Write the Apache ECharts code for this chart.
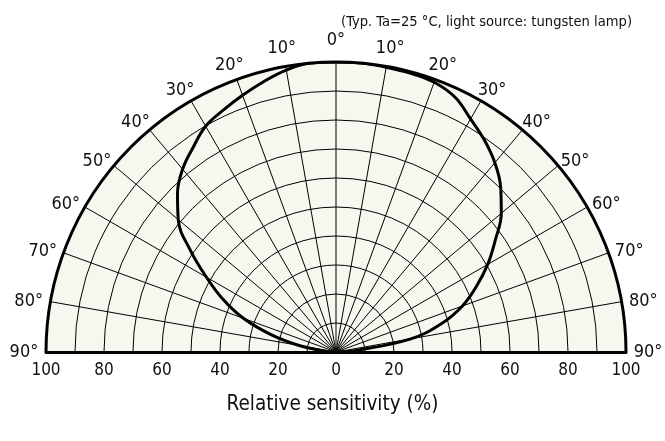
<!DOCTYPE html>
<html>
<head>
<meta charset="utf-8">
<script src="https://cdn.jsdelivr.net/npm/echarts@6/dist/echarts.min.js"></script>
<style>
  html, body { margin: 0; padding: 0; background: #fff; }
  #chart { width: 665px; height: 441px; }
</style>
</head>
<body>
<div id="chart"></div>
<script>
// angle (deg from vertical) and relative sensitivity (%)
const angles = [-90, -85, -80, -75, -70, -65, -60, -55, -50, -45, -40, -35, -30, -25, -20, -15, -10, -5,
  0, 5, 10, 15, 20, 25, 30, 35, 40, 45, 50, 55, 60, 65, 70, 75, 80, 85, 90]
const sensitivity = [0, 4.5, 12.9, 23.2, 34, 43, 51.6, 61.4, 71, 77.3, 82.3, 86, 89.9, 92, 94.2, 96.5, 98.7, 100,
  100, 100, 99.7, 99.5, 99, 97, 92.8, 89.2, 85.2, 80.3, 74.4, 67, 60.4, 53.4, 46.4, 37.6, 26.2, 7.5, 0]
const angleTicks = [-90, -80, -70, -60, -50, -40, -30, -20, -10, 0, 10, 20, 30, 40, 50, 60, 70, 80, 90]
const radiusTicks = [-100, -80, -60, -40, -20, 0, 20, 40, 60, 80, 100]
const fullScale = 100

const FONT = 'DejaVu Sans Condensed, DejaVu Sans, sans-serif'
const cx = 336, cy = 352, R = 290
const labelR = 107.6  // angle labels sit just outside the rim

// labels on the shoulders sit a little lower than on the rim circle
const labelDrop = a => 10 * Math.sin(2 * Math.abs(a) * Math.PI / 180)

const chart = echarts.init(document.getElementById('chart'))
chart.setOption({
  animation: false,
  title: [
    {
      text: '(Typ. Ta=25 °C, light source: tungsten lamp)',
      right: 28, top: 10,
      textStyle: { fontFamily: FONT, fontSize: 14.6, fontWeight: 'normal', color: '#111' },
    },
    {
      text: 'Relative sensitivity (%)',
      left: 'center', top: 389,
      textStyle: { fontFamily: FONT, fontSize: 20.5, fontWeight: 'normal', color: '#111' },
    },
  ],
  polar: { center: [cx, cy], radius: R },
  angleAxis: {
    type: 'value',
    min: angleTicks[0], max: angleTicks[angleTicks.length - 1], interval: 10,
    startAngle: 180, endAngle: 0, clockwise: true,
    axisLine: { lineStyle: { color: '#000', width: 3 } },
    axisTick: { show: false },
    axisLabel: { show: false },
    splitLine: { show: true, lineStyle: { color: '#000', width: 1 } },
  },
  radiusAxis: {
    type: 'value',
    min: 0, max: fullScale, interval: 10,
    axisLine: { show: false },
    axisTick: { show: false },
    axisLabel: { show: false },
    splitLine: { show: true, lineStyle: { color: '#000', width: 1 } },
  },
  grid: { left: cx - R, width: 2 * R, top: cy - 10, height: 10 },
  xAxis: {
    type: 'value',
    min: radiusTicks[0], max: radiusTicks[radiusTicks.length - 1], interval: 20,
    axisLine: { show: true, onZero: false, lineStyle: { color: '#000', width: 3 } },
    axisTick: { show: false },
    splitLine: { show: false },
    axisLabel: {
      margin: 10,
      fontFamily: FONT, fontSize: 17, color: '#111',
      formatter: v => String(Math.abs(v)),
    },
  },
  yAxis: { type: 'value', show: false, min: 0, max: 1 },
  series: [
    {
      // cream background of the half disc
      type: 'line',
      coordinateSystem: 'polar',
      data: angles.map(a => [fullScale, a]),
      symbol: 'none',
      lineStyle: { width: 0 },
      areaStyle: { color: '#f7f6ef', opacity: 1 },
      silent: true,
      z: -1,
    },
    {
      type: 'line',
      coordinateSystem: 'polar',
      data: angles.map((a, i) => [sensitivity[i], a]),
      smooth: 0.4,
      symbol: 'none',
      lineStyle: { color: '#000', width: 3 },
      z: 5,
    },
    {
      // angle labels, centred just outside the rim
      type: 'scatter',
      coordinateSystem: 'polar',
      data: angleTicks.map(a => ({ value: [labelR, a], label: { offset: [0, labelDrop(a)] } })),
      symbolSize: 1,
      clip: false,
      silent: true,
      itemStyle: { color: 'rgba(0,0,0,0)', opacity: 1 },
      label: {
        show: true, position: 'inside',
        align: 'center', verticalAlign: 'middle',
        fontFamily: FONT, fontSize: 18, color: '#111',
        opacity: 1, textBorderWidth: 0,
        formatter: p => Math.abs(p.value[1]) + '°',
      },
    },
  ],
})
</script>
</body>
</html>
